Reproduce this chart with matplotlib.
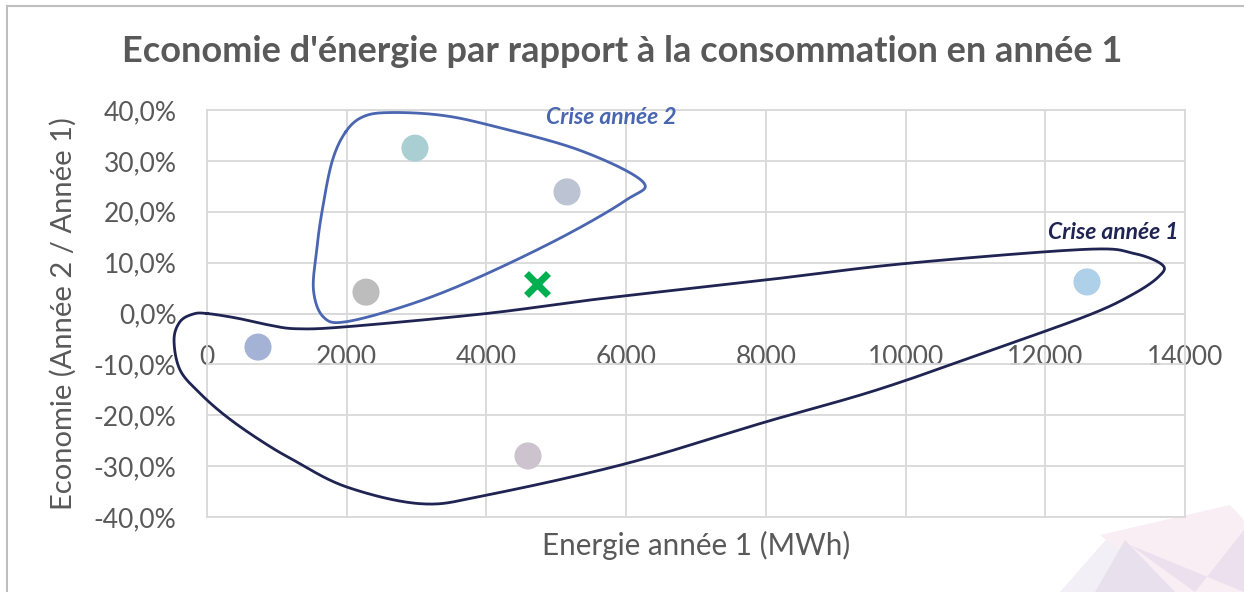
import numpy as np
import matplotlib
matplotlib.use("Agg")
import matplotlib.pyplot as plt
from matplotlib.ticker import FuncFormatter, MultipleLocator
from matplotlib.patches import Polygon
from matplotlib.lines import Line2D

plt.rcParams["font.family"] = ["Lato", "DejaVu Sans"]

# scatter points: energy year 1 (MWh), saving (%)
energie = [2977, 5153, 2276, 730, 4595, 12597]
economie = [32.5, 23.9, 4.2, -6.6, -28.0, 6.2]
couleurs = ["#A9CFD3", "#BCC4D4", "#BDBDBD", "#A4B2D6", "#CDC3CF", "#AED0E8"]

# average marker
moyenne_x = [4724]
moyenne_y = [5.8]

# hand drawn outlines (annotation shapes, data units)
crise2_x = [1985, 2237, 2620, 3335, 4051, 5333, 6238, 6000, 5095, 3905, 2952, 2000,
            1667, 1524, 1571, 1642, 1789]
crise2_y = [35.7, 38.7, 39.5, 39.0, 37.0, 32.1, 25.9, 22.3, 15.1, 7.2, 2.0, -1.6,
            -0.7, 4.6, 12.5, 19.7, 29.8]

crise1_x = [0, 425, 902, 1286, 2000, 4000, 5630, 8000, 9980, 12560, 13270, 13680, 13620,
            13270, 12680, 11500, 9640, 8000, 6000, 4000, 3070, 2000, 1236, 759, 282,
            -100, -386, -472, -386, -196]
crise1_y = [0.0, -0.9, -2.3, -3.0, -2.6, 0.0, 2.9, 6.6, 9.8, 12.6, 11.8, 9.5, 7.2,
            3.9, 0.0, -5.9, -14.8, -21.3, -29.5, -35.7, -37.4, -34.1, -28.8, -24.9, -20.3,
            -15.7, -11.1, -5.2, -1.6, -0.1]


def catmull_closed(xs, ys, n=30):
    p = np.column_stack([xs, ys]).astype(float)
    m = len(p)
    out = []
    t = np.linspace(0, 1, n, endpoint=False)[:, None]
    for i in range(m):
        p0, p1, p2, p3 = p[i - 1], p[i], p[(i + 1) % m], p[(i + 2) % m]
        seg = 0.5 * ((2 * p1) + (-p0 + p2) * t + (2 * p0 - 5 * p1 + 4 * p2 - p3) * t ** 2
                     + (-p0 + 3 * p1 - 3 * p2 + p3) * t ** 3)
        out.append(seg)
    out = np.vstack(out)
    out = np.vstack([out, out[:1]])
    return out[:, 0], out[:, 1]


fig = plt.figure(figsize=(12.44, 5.92), dpi=100)
ax = fig.add_axes([207 / 1244, 1 - 517 / 592, 978 / 1244, 407 / 592])

grid_c = "#D9D9D9"
txt_c = "#595959"

ax.set_xlim(0, 14000)
ax.set_ylim(-40, 40)
ax.xaxis.set_major_locator(MultipleLocator(2000))
ax.yaxis.set_major_locator(MultipleLocator(10))
ax.grid(True, color=grid_c, linewidth=1.3)
ax.set_axisbelow(True)
for s in ["top", "right", "left"]:
    ax.spines[s].set_color(grid_c)
    ax.spines[s].set_linewidth(1.3)
ax.spines["bottom"].set_position(("data", 0))
ax.spines["bottom"].set_color(grid_c)
ax.spines["bottom"].set_linewidth(1.3)
ax.tick_params(length=0, labelsize=19, colors=txt_c)
ax.tick_params(axis="y", pad=22)
ax.tick_params(axis="x", pad=23)
ax.yaxis.set_major_formatter(FuncFormatter(lambda v, p: f"{v:.1f}%".replace(".", ",")))
ax.xaxis.set_major_formatter(FuncFormatter(lambda v, p: f"{v:.0f}"))
ax.axhline(-40, color=grid_c, linewidth=1.3, clip_on=False)

ax.scatter(energie, economie, s=380, c=couleurs, edgecolors="none", zorder=3)
ax.plot(moyenne_x, moyenne_y, marker="x", color="#00B050", markersize=16, mew=5,
        linestyle="none", zorder=4)

cx, cy = catmull_closed(crise2_x, crise2_y)
ax.plot(cx, cy, color="#4A66B0", linewidth=2, clip_on=False, zorder=5)
cx, cy = catmull_closed(crise1_x, crise1_y)
ax.plot(cx, cy, color="#1F2452", linewidth=2, clip_on=False, zorder=5)

ax.text(6728, 38.6, "Crise année 2", color="#4A66B0", fontsize=16.5, fontweight="bold",
        style="italic", ha="right", va="center", zorder=6)
ax.text(13900, 16.0, "Crise année 1", color="#1F2452", fontsize=16.5, fontweight="bold",
        style="italic", ha="right", va="center", zorder=6)

ax.set_xlabel("Energie année 1 (MWh)", fontsize=21.3, color=txt_c)
ax.xaxis.set_label_coords(0.5, -0.035)
ax.set_ylabel("Economie (Année 2 / Année 1)", fontsize=21, color=txt_c, labelpad=12)

fig.text(0.5, 1 - 52 / 592, "Economie d'énergie par rapport à la consommation en année 1",
         ha="center", va="center", fontsize=26, fontweight="bold", color=txt_c)

# chart frame
fig.add_artist(Line2D([7 / 1244, 7 / 1244], [0, 1 - 6 / 592], transform=fig.transFigure,
                      color="#BFBFBF", linewidth=1.5))
fig.add_artist(Line2D([7 / 1244, 1], [1 - 6 / 592, 1 - 6 / 592], transform=fig.transFigure,
                      color="#BFBFBF", linewidth=1.5))

# decorative background corner
W, H = 1244, 592
deco = [
    ([(1060, 592), (1110, 535), (1160, 592)], "#F3EFF6"),
    ([(1100, 535), (1230, 505), (1244, 520), (1244, 592), (1170, 592)], "#F8EEF4"),
    ([(1125, 540), (1175, 592), (1095, 592)], "#E9E0EE"),
    ([(1130, 545), (1195, 592), (1244, 530), (1244, 592)], "#ECE0EE"),
]
for pts, col in deco:
    fig.add_artist(Polygon([(x / W, 1 - y / H) for x, y in pts], closed=True,
                           transform=fig.transFigure, facecolor=col, edgecolor="none", zorder=-1))

fig.savefig("out.png", dpi=100)
